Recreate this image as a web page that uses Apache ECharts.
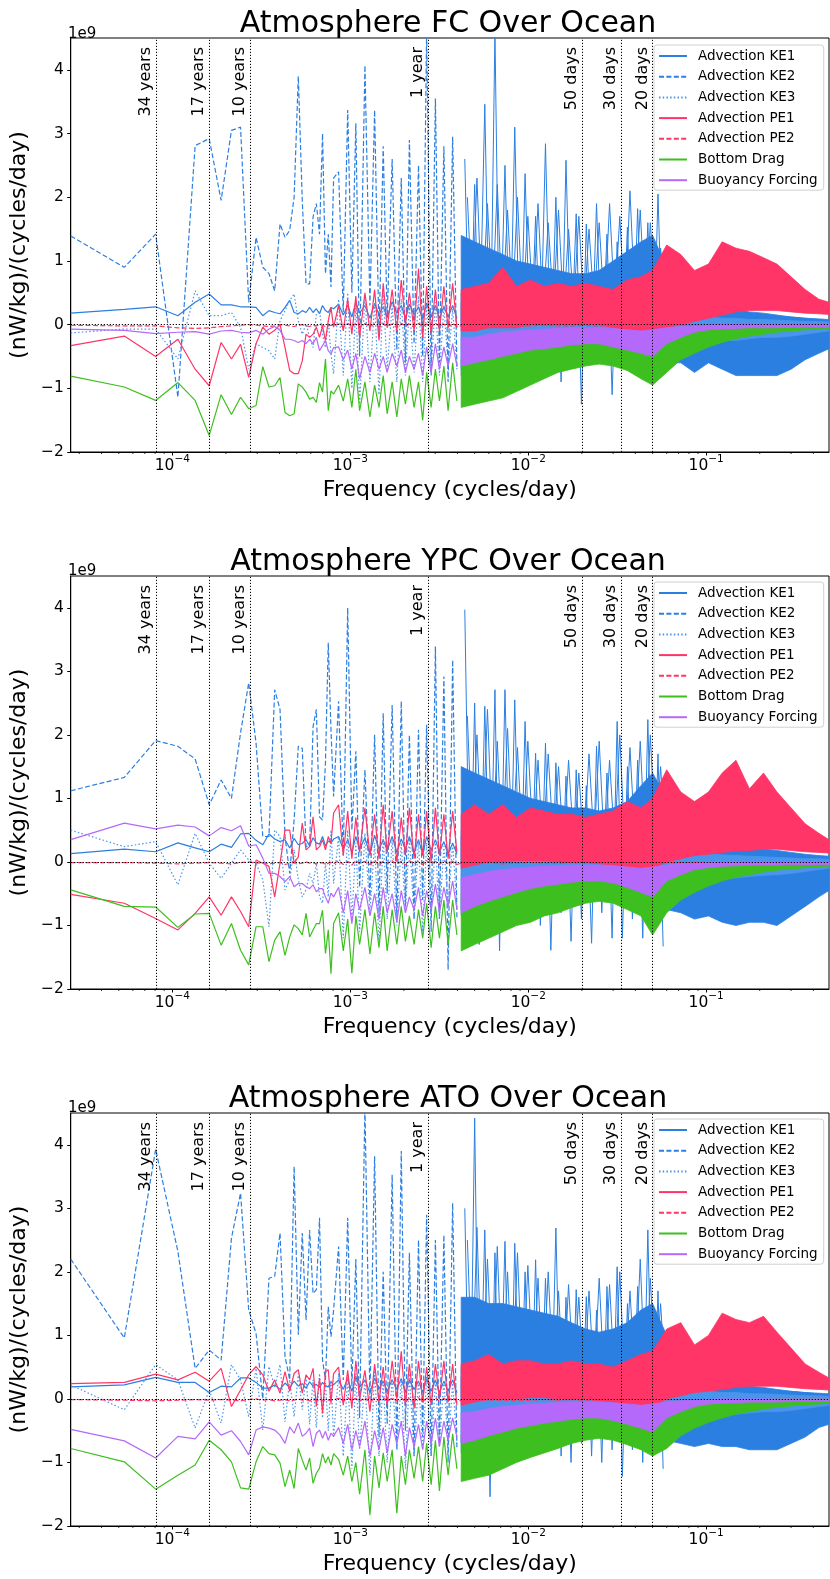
<!DOCTYPE html>
<html><head><meta charset="utf-8">
<script src="https://cdn.jsdelivr.net/npm/echarts@6/dist/echarts.min.js"></script>
<style>html,body{margin:0;padding:0;background:#fff}#chart{width:830px;height:1579px}</style>
</head><body><div id="chart"></div>
<script>
// ---------- shared axes / categories ----------
const RECORD_DAYS = 102 * 365; // record length -> frequency resolution k / RECORD_DAYS (cycles/day)
const kLow = [1,2,3,4,5,6,7,8,9,10,11,12,13,14,15,16,17,18,19,20,21,22,23,24,25,26,27,28,29,30];
const kMid = [32,34,36,38,40,42,45,48,51,54,57,60,64,68,72,76,80,85,90,95,100,106,112,118,125,132,140,148];
const bandFreq = [0.0042,0.005,0.006,0.0072,0.0086,0.0103,0.0123,0.0147,0.0175,0.021,0.025,0.03,0.036,0.043,0.05,0.06,0.072,0.086,0.103,0.123,0.147,0.175,0.21,0.25,0.3,0.36,0.43,0.49];
const tailFreq = [0.0044,0.0047,0.005,0.0053,0.0057,0.0061,0.0065,0.0069,0.0074,0.0079,0.0084,0.009,0.0096,0.0103,0.011,0.0117,0.0125,0.0134,0.0143,0.0153,0.0163,0.0174,0.0186,0.0199,0.0212,0.0227,0.0242,0.0259,0.0277,0.0296,0.0316,0.0338,0.0361,0.0385,0.0412,0.044,0.047,0.0502,0.0536,0.0573];
const tailFreq2 = [0.00455,0.00485,0.00515,0.0055,0.0059,0.0063,0.0067,0.00715,0.00765,0.00815,0.0087,0.0093,0.00995,0.01065,0.01135,0.0121,0.01295,0.01385,0.0148,0.0158,0.01685,0.018,0.01925,0.02055,0.02195,0.02345,0.02505,0.0268,0.02865,0.0306,0.0327,0.03495,0.0373,0.03985,0.0426,0.0455,0.04855,0.0519,0.05545,0.0592];
const periodFreq = [1/(34*365), 1/(17*365), 1/(10*365), 1/365, 1/50, 1/30, 1/20];
const periodLabels = ['34 years','17 years','10 years','1 year','50 days','30 days','20 days'];
const minorTickFreq = [3e-5,4e-5,5e-5,6e-5,7e-5,8e-5,9e-5,2e-4,3e-4,4e-4,5e-4,6e-4,7e-4,8e-4,9e-4,2e-3,3e-3,4e-3,5e-3,6e-3,7e-3,8e-3,9e-3,2e-2,3e-2,4e-2,5e-2,6e-2,7e-2,8e-2,9e-2,0.2,0.3,0.4];
const seriesNames = ['Advection KE1','Advection KE2','Advection KE3','Advection PE1','Advection PE2','Bottom Drag','Buoyancy Forcing'];
const panelTitles = ['Atmosphere FC Over Ocean','Atmosphere YPC Over Ocean','Atmosphere ATO Over Ocean'];

// ---------- Panel 1: FC (values in 1e9 units) ----------
const fcKE1Low = [0.18,0.24,0.28,0.14,0.35,0.48,0.31,0.31,0.28,0.28,0.27,0.14,0.22,0.19,0.17,0.27,0.38,0.19,0.17,0.22,0.19,0.27,0.19,0.25,0.17,0.3,0.22,0.19,0.27,0.25];
const fcKE1Mid = [0.32,0.15,0.3,0.12,0.35,0.18,0.3,0.1,0.33,0.16,0.28,0.12,0.36,0.18,0.3,0.1,0.32,0.15,0.28,0.08,0.34,0.12,0.3,0.1,0.28,0.12,0.3,0.1];
const fcKE1Hi = [0.35,0.33,0.32,0.3,0.3,0.3,0.28,0.28,0.27,0.27,0.26,0.26,0.27,0.28,0.28,0.25,0.22,0.2,0.18,0.17,0.16,0.15,0.14,0.13,0.12,0.1,0.09,0.08];
const fcKE1Lo = [0.02,0.02,0.0,0.0,-0.02,-0.02,-0.03,-0.03,-0.03,-0.04,-0.04,-0.05,-0.05,-0.06,-0.06,-0.06,-0.07,-0.08,-0.08,-0.08,-0.08,-0.08,-0.07,-0.07,-0.06,-0.06,-0.05,-0.05];
const fcKE2Low = [1.39,0.90,1.42,-1.14,2.81,2.92,1.95,3.05,3.10,0.35,1.37,0.9,0.8,0.53,1.58,1.37,1.48,2.0,3.9,1.95,0.64,0.64,1.69,1.9,1.42,3.0,0.8,1.42,0.59,2.3];
const fcKE2Mid = [2.4,0.2,3.37,0.5,3.16,-0.5,4.07,0.3,3.37,-0.2,2.8,0.1,2.6,-0.4,2.3,-0.6,2.9,-0.3,2.5,-0.5,4.6,-0.8,3.55,-0.6,2.8,-0.9,2.95,-0.7];
const fcKE2Tail = [2.6,-0.8,2.2,-0.6,3.46,-0.9,4.6,-0.7,2.5,-0.5,3.1,-0.8,2.37,-0.6,1.7,-0.5,2.84,-0.7,2.0,-0.9,2.58,-0.5,1.74,-1.25,1.58,-0.5,1.9,-0.6,1.42,-1.1,1.3,-0.5,1.53,-0.7,1.82,-0.6,1.6,-0.9,2.05,-0.7];
const fcKE2Tail2 = [2.0,0.3,2.3,0.2,1.9,0.3,2.2,0.2,1.8,0.3,2.0,0.2,1.7,0.3,1.9,0.2,1.6,0.3,1.8,0.2,1.5,0.3,1.7,0.2,1.5,0.3,1.6,0.2,1.9,0.3,1.7,0.2,2.1,0.3,1.8,0.2,1.6,0.3,1.2,0.2];
const fcKE2Hi = [1.4,1.3,1.2,1.1,1.0,0.95,0.9,0.85,0.8,0.8,0.85,1.0,1.15,1.3,1.4,0.9,0.5,0.35,0.3,0.3,0.25,0.2,0.18,0.15,0.12,0.1,0.08,0.06];
const fcKE2Lo = [-0.7,-0.65,-0.6,-0.6,-0.55,-0.5,-0.5,-0.5,-0.45,-0.45,-0.45,-0.45,-0.5,-0.5,-0.6,-0.6,-0.6,-0.75,-0.6,-0.7,-0.8,-0.8,-0.8,-0.8,-0.7,-0.55,-0.45,-0.38];
const fcKE3Low = [-0.13,-0.07,-0.07,-0.54,0.53,0.14,0.14,0.19,-0.04,-0.70,-0.3,-0.36,-0.41,-0.54,0.06,0.22,0.38,0.48,0.06,-0.15,0.01,-0.2,-0.36,0.17,0.22,-0.15,-0.36,0.06,-0.46,-0.77];
const fcKE3Mid = [0.4,-0.8,0.5,-1.0,0.3,-1.25,0.45,-0.9,0.35,-1.1,0.5,-0.7,0.3,-0.9,0.4,-0.8,0.3,-0.75,0.45,-0.9,0.3,-0.7,0.35,-0.8,0.3,-0.65,0.25,-0.7];
const fcKE3Hi = [0.5,0.45,0.45,0.4,0.4,0.35,0.35,0.3,0.3,0.3,0.28,0.25,0.25,0.25,0.25,0.2,0.18,0.15,0.12,0.1,0.1,0.08,0.08,0.07,0.06,0.05,0.05,0.04];
const fcKE3Lo = [-0.8,-0.75,-0.7,-0.65,-0.6,-0.55,-0.5,-0.45,-0.4,-0.4,-0.4,-0.38,-0.4,-0.4,-0.45,-0.35,-0.3,-0.3,-0.25,-0.25,-0.25,-0.22,-0.2,-0.2,-0.18,-0.15,-0.12,-0.1];
const fcPE1Low = [-0.33,-0.18,-0.5,-0.23,-0.70,-0.96,-0.28,-0.54,-0.31,-0.83,-0.30,-0.04,-0.15,-0.09,0.0,-0.36,-0.72,-0.77,-0.77,-0.57,-0.15,-0.2,-0.15,-0.04,-0.2,-0.02,-0.25,0.06,0.27,-0.04];
const fcPE1Mid = [0.3,-0.1,0.4,-0.15,0.45,-0.2,0.5,-0.1,0.55,-0.25,0.65,-0.05,0.55,-0.1,0.7,0.0,0.5,-0.1,0.88,-0.2,0.6,-0.15,0.55,-0.1,0.6,-0.05,0.65,-0.05];
const fcPE1Hi = [0.55,0.6,0.65,0.9,0.6,0.7,0.6,0.65,0.6,0.65,0.6,0.55,0.7,0.75,0.85,1.25,1.1,0.85,0.95,1.3,1.2,1.15,1.05,0.95,0.75,0.55,0.4,0.35];
const fcPE1Lo = [-0.1,-0.1,-0.05,-0.05,-0.05,0.0,0.0,0.0,0.0,0.0,0.0,-0.05,-0.1,-0.15,-0.15,-0.05,0.0,0.05,0.1,0.15,0.2,0.22,0.22,0.22,0.2,0.18,0.17,0.16];
const fcPE2Low = [-0.01,-0.02,-0.02,-0.05,-0.06,-0.05,-0.03,-0.02,-0.01,0.0,-0.01,-0.02,-0.03,-0.02,0.0,-0.01,-0.02,-0.03,-0.01,0.0,-0.02,-0.03,-0.01,-0.02,0.0,-0.01,-0.03,-0.02,-0.01,-0.02];
const fcPE2Mid = [0.01,-0.04,0.02,-0.03,0.01,-0.05,0.02,-0.03,0.01,-0.04,0.02,-0.03,0.01,-0.05,0.02,-0.03,0.01,-0.04,0.02,-0.03,0.01,-0.04,0.02,-0.03,0.01,-0.04,0.02,-0.03];
const fcPE2Band = [-0.02,-0.01,-0.03,-0.01,-0.02,-0.02,-0.01,-0.02,-0.02,-0.01,-0.02,-0.02,-0.01,-0.02,-0.02,-0.01,-0.01,-0.01,-0.01,-0.01,-0.01,-0.01,-0.01,-0.01,-0.01,-0.01,-0.01,-0.01];
const fcBDLow = [-0.81,-0.98,-1.19,-0.91,-1.19,-1.74,-1.10,-1.41,-1.14,-1.32,-1.27,-0.66,-0.98,-0.96,-0.83,-1.38,-1.43,-1.40,-0.93,-0.98,-1.06,-1.17,-1.14,-1.22,-0.91,-1.06,-0.54,-1.35,-1.04,-1.09];
const fcBDMid = [-0.95,-1.2,-0.85,-1.3,-0.7,-1.35,-0.9,-1.45,-0.95,-1.3,-0.8,-1.4,-0.9,-1.45,-0.85,-1.25,-0.8,-1.3,-0.9,-1.5,-0.75,-1.3,-0.7,-1.2,-0.65,-1.35,-0.6,-1.2];
const fcBDHi = [-0.55,-0.5,-0.45,-0.4,-0.35,-0.3,-0.28,-0.25,-0.22,-0.2,-0.2,-0.2,-0.25,-0.3,-0.3,-0.2,-0.15,-0.1,-0.06,-0.04,-0.03,-0.02,-0.01,0.0,0.0,0.0,0.0,0.0];
const fcBDLo = [-1.3,-1.25,-1.2,-1.15,-1.05,-0.95,-0.85,-0.75,-0.7,-0.65,-0.62,-0.65,-0.72,-0.85,-0.95,-0.75,-0.55,-0.45,-0.35,-0.28,-0.22,-0.18,-0.15,-0.12,-0.1,-0.08,-0.07,-0.06];
const fcBFLow = [-0.07,-0.09,-0.14,-0.12,-0.11,-0.15,-0.10,-0.09,-0.12,-0.13,-0.09,-0.15,-0.07,-0.03,-0.09,-0.23,-0.23,-0.25,-0.28,-0.25,-0.30,-0.23,-0.30,-0.2,-0.41,-0.33,-0.25,-0.41,-0.46,-0.36];
const fcBFMid = [-0.35,-0.55,-0.4,-0.7,-0.45,-0.85,-0.5,-0.75,-0.45,-0.7,-0.5,-0.75,-0.45,-0.65,-0.4,-0.75,-0.5,-0.7,-0.45,-0.8,-0.35,-0.75,-0.3,-0.7,-0.35,-0.65,-0.3,-0.65];
const fcBFHi = [-0.2,-0.2,-0.15,-0.12,-0.1,-0.08,-0.07,-0.06,-0.05,-0.05,-0.05,-0.06,-0.08,-0.1,-0.08,-0.05,-0.03,-0.02,-0.01,0,0,0,0,0,0,0,0,0];
const fcBFLo = [-0.65,-0.6,-0.55,-0.5,-0.45,-0.4,-0.38,-0.35,-0.32,-0.3,-0.3,-0.35,-0.4,-0.45,-0.5,-0.3,-0.2,-0.12,-0.08,-0.07,-0.06,-0.05,-0.05,-0.05,-0.04,-0.04,-0.04,-0.04];

// ---------- Panel 2: YPC ----------
const ypKE1Low = [0.13,0.2,0.16,0.3,0.22,0.16,0.28,0.23,0.44,0.45,0.34,0.27,0.44,0.36,0.32,0.35,0.22,0.37,0.27,0.29,0.35,0.25,0.38,0.3,0.28,0.4,0.25,0.33,0.3,0.36];
const ypKE1Mid = [0.4,0.2,0.35,0.15,0.4,0.2,0.38,0.12,0.42,0.2,0.35,0.18,0.4,0.15,0.36,0.2,0.4,0.15,0.35,0.12,0.4,0.18,0.35,0.15,0.32,0.12,0.3,0.12];
const ypKE1Hi = [0.4,0.38,0.36,0.35,0.35,0.33,0.32,0.3,0.3,0.3,0.3,0.3,0.3,0.32,0.32,0.3,0.35,0.32,0.3,0.28,0.26,0.24,0.2,0.18,0.15,0.12,0.1,0.09];
const ypKE1Lo = [0.0,0.0,-0.02,-0.02,-0.03,-0.03,-0.04,-0.04,-0.05,-0.05,-0.05,-0.06,-0.06,-0.07,-0.07,-0.07,-0.08,-0.08,-0.08,-0.08,-0.08,-0.08,-0.08,-0.07,-0.07,-0.06,-0.06,-0.05];
const ypKE2Low = [1.12,1.33,1.91,1.82,1.62,0.90,1.29,1.0,2.03,2.82,1.87,0.4,0.4,2.71,2.4,0.4,-0.18,0.66,1.82,1.79,0.24,0.24,2.13,2.4,0.71,0.66,1.56,3.45,2.08,1.03];
const ypKE2Mid = [2.53,0.1,4.0,0.5,1.74,-0.4,1.45,-0.6,2.0,-0.8,2.34,-0.5,2.47,-0.9,2.53,-0.7,2.0,-0.9,2.08,-0.6,2.16,-1.1,3.39,-0.9,2.92,-1.7,3.18,-0.9];
const ypKE2Tail = [3.97,-0.9,2.5,-1.3,2.45,-0.8,2.71,-1.4,2.71,-0.7,2.55,-0.9,2.21,-0.8,1.71,-1.0,1.87,-1.39,1.56,-0.8,1.35,-1.25,1.45,-0.9,1.2,-1.28,1.82,-0.8,1.4,-1.2,2.21,-1.2,1.5,-0.9,1.6,-1.2,2.24,-1.0,1.7,-1.33];
const ypKE2Tail2 = [2.3,0.3,2.0,0.2,2.4,0.3,1.9,0.2,2.1,0.3,1.8,0.2,1.9,0.3,1.6,0.2,1.7,0.3,1.5,0.2,1.6,0.3,1.4,0.2,1.7,0.3,1.9,0.2,1.6,0.3,2.0,0.2,1.8,0.3,1.9,0.2,2.0,0.3,1.5,0.2];
const ypKE2Hi = [1.5,1.4,1.3,1.2,1.1,1.0,0.95,0.9,0.85,0.85,0.8,0.85,0.95,1.2,1.4,1.0,0.6,0.4,0.35,0.35,0.25,0.2,0.15,0.12,0.1,0.08,0.06,0.05];
const ypKE2Lo = [-0.75,-0.7,-0.7,-0.65,-0.6,-0.6,-0.55,-0.55,-0.55,-0.5,-0.55,-0.55,-0.6,-0.65,-0.7,-0.75,-0.8,-0.9,-0.85,-0.95,-1.0,-0.95,-0.95,-1.0,-0.85,-0.7,-0.55,-0.45];
const ypKE3Low = [0.5,0.24,0.32,-0.36,0.45,-0.02,-0.26,-0.02,0.19,0.03,-0.02,-0.28,-1.02,0.5,0.4,-0.44,-0.28,0.19,-0.28,-0.55,-0.44,-0.18,-0.34,-0.02,-0.55,-0.65,-0.02,-0.55,0.5,-0.34];
const ypKE3Mid = [0.4,-1.2,0.5,-0.9,0.3,-1.1,0.45,-0.8,0.3,-1.3,0.4,-0.9,0.35,-1.0,0.3,-0.8,0.4,-0.9,0.35,-1.1,0.3,-0.8,0.3,-0.9,0.25,-0.7,0.3,-0.75];
const ypKE3Hi = [0.5,0.45,0.45,0.42,0.4,0.38,0.35,0.32,0.3,0.3,0.28,0.28,0.26,0.25,0.25,0.22,0.2,0.16,0.13,0.11,0.1,0.09,0.08,0.07,0.06,0.05,0.05,0.04];
const ypKE3Lo = [-0.85,-0.8,-0.75,-0.7,-0.62,-0.55,-0.5,-0.47,-0.43,-0.42,-0.42,-0.4,-0.42,-0.45,-0.48,-0.38,-0.33,-0.3,-0.27,-0.26,-0.25,-0.23,-0.21,-0.2,-0.18,-0.15,-0.12,-0.1];
const ypPE1Low = [-0.51,-0.65,-0.89,-1.07,-0.81,-0.55,-0.84,-0.55,-0.78,-1.02,0.03,-0.02,-0.07,-0.55,-0.02,0.5,0.5,-0.02,0.08,0.61,0.19,0.24,0.71,0.19,0.24,0.35,0.19,0.4,0.29,0.77];
const ypPE1Mid = [0.9,0.1,0.8,0.05,0.7,0.15,0.85,0.1,0.75,0.05,0.9,0.15,0.8,0.0,0.7,0.1,0.85,0.05,0.75,0.1,0.8,0.0,0.85,0.1,0.75,0.05,0.8,0.15];
const ypPE1Hi = [0.75,0.9,0.75,0.9,0.7,0.85,0.8,0.75,0.75,0.7,0.75,0.8,0.95,0.85,1.0,1.45,1.1,0.95,1.1,1.4,1.6,1.15,1.4,1.1,0.85,0.6,0.45,0.35];
const ypPE1Lo = [-0.1,-0.05,0.0,0.0,0.02,0.02,0.02,0.0,0.0,0.0,-0.03,-0.05,-0.08,-0.1,-0.1,0.0,0.05,0.1,0.12,0.15,0.17,0.18,0.2,0.2,0.18,0.16,0.15,0.14];
const ypPE2Low = [-0.01,-0.01,-0.02,-0.03,-0.02,-0.01,-0.02,-0.03,-0.01,0.0,-0.02,-0.01,-0.03,-0.02,-0.01,-0.04,-0.02,-0.01,-0.03,-0.02,0.0,-0.02,-0.01,-0.03,-0.02,-0.01,-0.04,-0.02,-0.01,-0.03];
const ypPE2Mid = [0.02,-0.04,0.01,-0.05,0.02,-0.03,0.01,-0.04,0.02,-0.05,0.01,-0.03,0.02,-0.04,0.01,-0.05,0.02,-0.03,0.01,-0.04,0.02,-0.03,0.01,-0.04,0.02,-0.03,0.01,-0.04];
const ypPE2Band = [-0.02,-0.02,-0.01,-0.03,-0.02,-0.01,-0.02,-0.02,-0.01,-0.02,-0.02,-0.01,-0.02,-0.02,-0.01,-0.01,-0.01,-0.01,-0.01,-0.01,-0.01,-0.01,-0.01,-0.01,-0.01,-0.01,-0.01,-0.01];
const ypBDLow = [-0.44,-0.70,-0.71,-1.03,-0.82,-0.81,-1.31,-0.97,-1.39,-1.62,-1.02,-1.02,-1.57,-1.23,-1.1,-1.47,-1.18,-0.99,-1.05,-1.15,-0.81,-1.18,-1.07,-0.97,-0.97,-0.76,-1.44,-1.07,-1.76,-0.97];
const ypBDMid = [-0.8,-1.4,-0.9,-1.75,-0.85,-1.3,-0.75,-1.45,-0.8,-1.35,-0.7,-1.4,-0.75,-1.3,-0.7,-1.25,-0.85,-1.3,-0.75,-1.2,-0.65,-1.35,-0.7,-1.2,-0.6,-1.3,-0.6,-1.15];
const ypBDHi = [-0.5,-0.45,-0.42,-0.38,-0.35,-0.3,-0.28,-0.25,-0.22,-0.2,-0.2,-0.22,-0.25,-0.3,-0.3,-0.2,-0.15,-0.1,-0.07,-0.05,-0.03,-0.02,-0.01,0,0,0,0,0];
const ypBDLo = [-1.4,-1.3,-1.2,-1.1,-1.0,-0.95,-0.85,-0.8,-0.72,-0.65,-0.62,-0.65,-0.75,-0.85,-1.15,-0.8,-0.6,-0.48,-0.38,-0.3,-0.24,-0.2,-0.16,-0.13,-0.11,-0.09,-0.08,-0.07];
const ypBFLow = [0.35,0.61,0.52,0.58,0.55,0.41,0.54,0.49,0.57,0.25,0.27,0.06,-0.18,-0.18,-0.23,-0.31,-0.23,-0.39,-0.34,-0.34,-0.39,-0.42,-0.36,-0.47,-0.42,-0.42,-0.55,-0.65,-0.49,-0.55];
const ypBFMid = [-0.4,-0.8,-0.45,-0.97,-0.5,-0.75,-0.4,-0.85,-0.5,-0.9,-0.4,-0.8,-0.5,-0.95,-0.45,-0.8,-0.55,-0.75,-0.4,-0.85,-0.45,-0.75,-0.35,-0.8,-0.4,-0.7,-0.3,-0.75];
const ypBFHi = [-0.25,-0.2,-0.15,-0.12,-0.1,-0.08,-0.07,-0.06,-0.05,-0.05,-0.05,-0.06,-0.08,-0.1,-0.08,-0.05,-0.03,-0.02,-0.01,0,0,0,0,0,0,0,0,0];
const ypBFLo = [-0.8,-0.7,-0.62,-0.55,-0.48,-0.42,-0.38,-0.35,-0.32,-0.3,-0.3,-0.33,-0.4,-0.48,-0.55,-0.3,-0.2,-0.12,-0.09,-0.07,-0.06,-0.05,-0.05,-0.05,-0.04,-0.04,-0.04,-0.04];

// ---------- Panel 3: ATO ----------
const atKE1Low = [0.19,0.22,0.34,0.26,0.26,0.1,0.2,0.19,0.33,0.33,0.26,0.17,0.17,0.22,0.15,0.25,0.18,0.28,0.2,0.24,0.17,0.27,0.2,0.23,0.18,0.26,0.21,0.19,0.27,0.22];
const atKE1Mid = [0.3,0.15,0.32,0.12,0.35,0.18,0.3,0.1,0.33,0.16,0.28,0.12,0.3,0.15,0.32,0.1,0.3,0.15,0.28,0.1,0.32,0.12,0.3,0.1,0.28,0.12,0.3,0.1];
const atKE1Hi = [0.35,0.33,0.32,0.3,0.3,0.3,0.28,0.28,0.27,0.27,0.26,0.26,0.27,0.28,0.3,0.28,0.26,0.24,0.22,0.2,0.18,0.16,0.15,0.13,0.12,0.1,0.09,0.08];
const atKE1Lo = [0.02,0.02,0.0,0.0,-0.02,-0.02,-0.03,-0.03,-0.03,-0.04,-0.04,-0.05,-0.05,-0.06,-0.06,-0.06,-0.07,-0.08,-0.08,-0.08,-0.08,-0.08,-0.07,-0.07,-0.06,-0.06,-0.05,-0.05];
const atKE2Low = [2.2,0.96,3.93,2.32,0.48,0.77,0.61,2.53,3.24,1.40,1.03,0.0,1.9,1.93,2.61,0.67,0.3,3.66,1.01,2.61,1.24,2.66,1.66,1.72,2.85,0.61,0.3,1.45,0.98,1.4];
const atKE2Mid = [2.4,0.3,2.85,0.2,2.2,-0.3,4.6,0.0,3.82,-0.6,2.0,-0.4,3.53,-0.8,3.9,-0.5,2.3,-0.9,2.5,-0.6,2.9,-0.9,2.5,-0.7,2.58,-1.0,3.08,-0.8];
const atKE2Tail = [3.0,-1.0,4.42,-0.9,2.66,-1.54,2.3,-0.8,2.48,-1.0,2.45,-0.7,2.0,-0.9,2.19,-0.8,1.9,-0.7,2.69,-0.9,1.6,-1.0,1.72,-0.7,1.61,-0.9,1.4,-1.0,1.77,-0.8,2.08,-1.22,1.5,-0.8,1.77,-1.0,2.66,-0.9,1.7,-1.1];
const atKE2Tail2 = [2.5,0.3,2.7,0.2,2.2,0.3,2.4,0.2,2.0,0.3,2.3,0.2,2.1,0.3,1.9,0.2,2.0,0.3,1.7,0.2,1.8,0.3,1.6,0.2,1.7,0.3,1.9,0.2,1.8,0.3,2.0,0.2,1.7,0.3,2.2,0.2,1.9,0.3,1.5,0.2];
const atKE2Hi = [1.6,1.6,1.5,1.5,1.45,1.4,1.35,1.3,1.2,1.1,1.05,1.1,1.2,1.4,1.5,1.0,0.6,0.4,0.35,0.3,0.25,0.2,0.18,0.15,0.12,0.1,0.08,0.06];
const atKE2Lo = [-0.7,-0.7,-0.65,-0.6,-0.6,-0.55,-0.55,-0.5,-0.5,-0.5,-0.5,-0.5,-0.55,-0.6,-0.65,-0.65,-0.7,-0.75,-0.7,-0.75,-0.75,-0.8,-0.8,-0.8,-0.7,-0.6,-0.45,-0.4];
const atKE3Low = [0.22,-0.17,0.54,0.3,-0.46,0.14,-0.38,0.54,0.3,-0.28,0.48,-0.49,0.51,0.19,0.54,-0.36,0.3,-0.28,0.4,-0.17,0.35,-0.4,0.3,-0.45,0.4,-0.3,0.25,-0.5,0.3,-0.6];
const atKE3Mid = [0.4,-0.9,0.35,-1.1,0.4,-0.8,0.3,-1.2,0.45,-0.9,0.3,-1.0,0.35,-0.8,0.3,-1.1,0.4,-0.9,0.3,-0.8,0.35,-0.9,0.3,-0.75,0.3,-0.8,0.25,-0.7];
const atKE3Hi = [0.5,0.45,0.45,0.4,0.4,0.35,0.35,0.3,0.3,0.3,0.28,0.25,0.25,0.25,0.25,0.2,0.18,0.15,0.12,0.1,0.1,0.08,0.08,0.07,0.06,0.05,0.05,0.04];
const atKE3Lo = [-0.85,-0.8,-0.72,-0.66,-0.6,-0.55,-0.5,-0.45,-0.42,-0.4,-0.4,-0.4,-0.42,-0.42,-0.45,-0.35,-0.3,-0.28,-0.25,-0.25,-0.24,-0.22,-0.2,-0.2,-0.18,-0.15,-0.12,-0.1];
const atPE1Low = [0.24,0.26,0.39,0.3,0.42,0.28,0.48,-0.12,0.14,0.38,0.51,0.38,0.12,0.3,0.09,0.43,0.12,0.4,0.46,0.09,0.38,0.3,0.48,-0.12,0.33,-0.23,0.43,0.46,-0.07,0.4];
const atPE1Mid = [0.5,-0.1,0.45,-0.15,0.6,0.0,0.45,-0.2,0.55,-0.05,0.5,-0.1,0.6,0.0,0.75,-0.1,0.55,-0.15,0.6,-0.05,0.5,-0.1,0.55,0.0,0.6,-0.05,0.55,-0.1];
const atPE1Hi = [0.55,0.6,0.7,0.55,0.6,0.6,0.55,0.55,0.6,0.55,0.55,0.5,0.6,0.7,0.75,1.1,1.2,0.85,1.0,1.35,1.25,1.2,1.3,1.05,0.8,0.55,0.42,0.33];
const atPE1Lo = [-0.1,-0.05,0.0,0.0,0.0,0.02,0.02,0.0,0.0,0.0,-0.03,-0.05,-0.08,-0.1,-0.12,0.0,0.05,0.1,0.12,0.15,0.18,0.2,0.2,0.2,0.18,0.16,0.15,0.14];
const atPE2Low = [-0.01,-0.02,-0.03,-0.02,-0.01,-0.02,-0.01,-0.02,-0.03,-0.01,0.0,-0.02,-0.01,-0.03,-0.02,-0.01,-0.03,-0.02,0.0,-0.02,-0.01,-0.03,-0.02,-0.01,-0.02,-0.03,-0.01,-0.02,-0.02,-0.01];
const atPE2Mid = [0.01,-0.04,0.02,-0.03,0.01,-0.04,0.02,-0.05,0.01,-0.03,0.02,-0.04,0.01,-0.03,0.02,-0.05,0.01,-0.03,0.02,-0.04,0.01,-0.03,0.02,-0.04,0.01,-0.03,0.02,-0.04];
const atPE2Band = [-0.02,-0.01,-0.02,-0.02,-0.03,-0.02,-0.01,-0.02,-0.01,-0.02,-0.02,-0.01,-0.02,-0.01,-0.02,-0.01,-0.01,-0.01,-0.01,-0.01,-0.01,-0.01,-0.01,-0.01,-0.01,-0.01,-0.01,-0.01];
const atBDLow = [-0.78,-0.99,-1.42,-1.2,-1.04,-0.65,-0.8,-0.99,-1.4,-1.42,-0.99,-0.75,-0.86,-0.88,-1.01,-1.38,-1.12,-1.41,-0.78,-0.96,-1.12,-0.93,-1.33,-1.17,-1.09,-0.86,-1.01,-0.91,-1.04,-0.86];
const atBDMid = [-0.95,-1.2,-0.9,-1.3,-1.0,-1.5,-0.8,-1.83,-0.9,-1.4,-0.85,-1.3,-0.8,-1.8,-0.9,-1.35,-0.8,-1.25,-0.75,-1.3,-0.7,-1.35,-0.65,-1.45,-0.6,-1.2,-0.55,-1.1];
const atBDHi = [-0.55,-0.5,-0.45,-0.4,-0.35,-0.3,-0.28,-0.25,-0.22,-0.2,-0.2,-0.22,-0.25,-0.3,-0.3,-0.2,-0.15,-0.1,-0.07,-0.05,-0.03,-0.02,-0.01,0,0,0,0,0];
const atBDLo = [-1.3,-1.25,-1.2,-1.1,-1.0,-0.92,-0.85,-0.78,-0.7,-0.65,-0.62,-0.65,-0.72,-0.8,-0.9,-0.78,-0.58,-0.46,-0.37,-0.3,-0.24,-0.2,-0.16,-0.13,-0.11,-0.09,-0.08,-0.07];
const atBFLow = [-0.48,-0.66,-0.93,-0.59,-0.63,-0.36,-0.57,-0.5,-0.67,-0.88,-0.49,-0.44,-0.46,-0.49,-0.57,-0.7,-0.44,-0.54,-0.38,-0.59,-0.54,-0.46,-0.75,-0.54,-0.49,-0.62,-0.51,-0.65,-0.54,-0.59];
const atBFMid = [-0.45,-0.7,-0.4,-0.8,-0.5,-0.75,-0.35,-0.9,-0.5,-0.8,-0.45,-0.85,-0.4,-0.7,-0.35,-0.9,-0.45,-0.75,-0.4,-0.8,-0.35,-0.7,-0.3,-0.75,-0.35,-0.65,-0.3,-0.6];
const atBFHi = [-0.22,-0.2,-0.15,-0.12,-0.1,-0.08,-0.07,-0.06,-0.05,-0.05,-0.05,-0.06,-0.08,-0.1,-0.08,-0.05,-0.03,-0.02,-0.01,0,0,0,0,0,0,0,0,0];
const atBFLo = [-0.7,-0.65,-0.58,-0.52,-0.46,-0.42,-0.38,-0.35,-0.32,-0.3,-0.3,-0.34,-0.4,-0.46,-0.52,-0.3,-0.2,-0.12,-0.08,-0.07,-0.06,-0.05,-0.05,-0.05,-0.04,-0.04,-0.04,-0.04];

// ---------- styling ----------
const FONT = "'DejaVu Sans', sans-serif";
const seriesColors = ['#2b7fe1','#2b7fe1','#4b94ec','#ff3467','#ff3467','#3dbf1f','#b469fa'];
const seriesDash = ['solid',[5,2.4],[1.5,2.2],'solid',[5,2.4],'solid','solid'];
const gridTops = [38, 576, 1113];
const gridHeights = [414, 413, 413];
const titleTops = [9, 547, 1084];
const legendTops = [45, 582, 1119];
const expTops = [27, 564, 1101];

const panelSets = [
  [{low:fcKE1Low,mid:fcKE1Mid,hi:fcKE1Hi,lo:fcKE1Lo},{low:fcKE2Low,mid:fcKE2Mid,tail:fcKE2Tail,tail2:fcKE2Tail2,hi:fcKE2Hi,lo:fcKE2Lo},{low:fcKE3Low,mid:fcKE3Mid,hi:fcKE3Hi,lo:fcKE3Lo},{low:fcPE1Low,mid:fcPE1Mid,hi:fcPE1Hi,lo:fcPE1Lo},{low:fcPE2Low,mid:fcPE2Mid,hi:fcPE2Band},{low:fcBDLow,mid:fcBDMid,hi:fcBDHi,lo:fcBDLo},{low:fcBFLow,mid:fcBFMid,hi:fcBFHi,lo:fcBFLo}],
  [{low:ypKE1Low,mid:ypKE1Mid,hi:ypKE1Hi,lo:ypKE1Lo},{low:ypKE2Low,mid:ypKE2Mid,tail:ypKE2Tail,tail2:ypKE2Tail2,hi:ypKE2Hi,lo:ypKE2Lo},{low:ypKE3Low,mid:ypKE3Mid,hi:ypKE3Hi,lo:ypKE3Lo},{low:ypPE1Low,mid:ypPE1Mid,hi:ypPE1Hi,lo:ypPE1Lo},{low:ypPE2Low,mid:ypPE2Mid,hi:ypPE2Band},{low:ypBDLow,mid:ypBDMid,hi:ypBDHi,lo:ypBDLo},{low:ypBFLow,mid:ypBFMid,hi:ypBFHi,lo:ypBFLo}],
  [{low:atKE1Low,mid:atKE1Mid,hi:atKE1Hi,lo:atKE1Lo},{low:atKE2Low,mid:atKE2Mid,tail:atKE2Tail,tail2:atKE2Tail2,hi:atKE2Hi,lo:atKE2Lo},{low:atKE3Low,mid:atKE3Mid,hi:atKE3Hi,lo:atKE3Lo},{low:atPE1Low,mid:atPE1Mid,hi:atPE1Hi,lo:atPE1Lo},{low:atPE2Low,mid:atPE2Mid,hi:atPE2Band},{low:atBDLow,mid:atBDMid,hi:atBDHi,lo:atBDLo},{low:atBFLow,mid:atBFMid,hi:atBFHi,lo:atBFLo}]
];

function xLabel(v) {
  const e = Math.log10(v), r = Math.round(e);
  if (Math.abs(e - r) > 1e-6) return '';
  return '{b|10}{s|' + (r < 0 ? '\u2212' : '') + Math.abs(r) + '}';
}
function yLabel(v) {
  if (Math.abs(v - Math.round(v)) > 1e-9) return '';
  return v < 0 ? '\u2212' + Math.abs(v) : String(v);
}
// filled envelope polygon drawn through the axes' own scales
function bandRenderer(hi, lo, color) {
  return function (params, api) {
    if (params.dataIndex !== 0) return null;
    const top = bandFreq.map((f, i) => api.coord([f, hi[i]]));
    const bot = bandFreq.map((f, i) => api.coord([f, lo[i]])).reverse();
    return {type: 'polygon', shape: {points: top.concat(bot)},
      style: {fill: color, stroke: color, lineWidth: 0.8}};
  };
}

const grids = [], xAxes = [], yAxes = [], titles = [], legends = [], graphics = [], series = [];
panelSets.forEach((sets, pi) => {
  grids.push({left: 68, width: 761, top: gridTops[pi], height: gridHeights[pi], show: true, borderColor: '#000', borderWidth: 1, backgroundColor: 'transparent'});
  xAxes.push({
    type: 'log', logBase: 10, gridIndex: pi, min: 1 / RECORD_DAYS, max: 0.49,
    axisLine: {show: true, onZero: false, lineStyle: {color: '#000', width: 1}},
    axisTick: {show: true, length: 3.5, lineStyle: {color: '#000', width: 1}},
    splitLine: {show: false},
    axisLabel: {formatter: xLabel, margin: 2, showMinLabel: false, showMaxLabel: false,
      rich: {b: {fontSize: 15.5, fontFamily: FONT, color: '#000', lineHeight: 16, padding: [7, 0, 0, 0]},
             s: {fontSize: 10.5, fontFamily: FONT, color: '#000', lineHeight: 11, verticalAlign: 'top'}}},
    name: 'Frequency (cycles/day)', nameLocation: 'middle', nameGap: 27,
    nameTextStyle: {fontSize: 22, fontFamily: FONT, color: '#000', verticalAlign: 'top'}
  });
  yAxes.push({
    type: 'value', gridIndex: pi, min: -2, max: 4.5, interval: 1,
    axisLine: {show: true, onZero: false, lineStyle: {color: '#000', width: 1}},
    axisTick: {show: true, length: 3.5, lineStyle: {color: '#000', width: 1}},
    splitLine: {show: false},
    axisLabel: {formatter: yLabel, margin: 7, fontSize: 15.5, fontFamily: FONT, color: '#000', showMaxLabel: false},
    name: '(nW/kg)/(cycles/day)', nameLocation: 'middle', nameGap: 28,
    nameTextStyle: {fontSize: 22, fontFamily: FONT, color: '#000'}
  });
  titles.push({text: panelTitles[pi], left: 448, top: titleTops[pi], textAlign: 'center', padding: 0,
    textStyle: {fontSize: 30, fontWeight: 'normal', fontFamily: FONT, color: '#000'}});
  legends.push({
    data: seriesNames.slice(), orient: 'vertical', left: 654, top: legendTops[pi],
    itemWidth: 28, itemHeight: 14, itemGap: 6.7, selectedMode: false,
    itemStyle: {opacity: 0}, z: 200,
    backgroundColor: 'rgba(255,255,255,0.85)', borderColor: '#d0d0d0', borderWidth: 1, borderRadius: 3,
    padding: [4, 6, 3, 4],
    textStyle: {fontSize: 13.5, fontFamily: FONT, color: '#000', padding: [0, 0, 0, 6]}
  });
  graphics.push({type: 'text', left: 68, top: expTops[pi], style: {text: '1e9', font: '15px ' + FONT, fill: '#000'}});

  let order = 0;
  sets.forEach((s, si) => {
    const color = seriesColors[si];
    const pts = kLow.map((k, i) => [k / RECORD_DAYS, s.low[i]]).concat(kMid.map((k, i) => [k / RECORD_DAYS, s.mid[i]]));
    if (!s.lo) bandFreq.forEach((f, i) => pts.push([f, s.hi[i]]));
    const main = {
      name: seriesNames[si], type: 'line', xAxisIndex: pi, yAxisIndex: pi, data: pts, z: 10 + order++,
      symbol: 'none', showSymbol: false, silent: true, animation: false, clip: true,
      lineStyle: {color: color, width: 1.2, type: seriesDash[si]}, itemStyle: {color: color}
    };
    if (si === 6) {
      main.markLine = {
        silent: true, symbol: ['none', 'none'], animation: false, precision: 6, z: 100,
        lineStyle: {color: '#000', type: [1.2, 1.8], width: 1},
        label: {show: true, position: 'insideEndTop', formatter: '{b}', color: '#000', fontSize: 16, fontFamily: FONT, distance: 2, padding: [0, 7, 0, 0]},
        data: periodFreq.map((f, i) => ({xAxis: f, name: periodLabels[i]})).concat([{yAxis: 0, name: '', label: {show: false}}])
      };
    }
    series.push(main);
    [[s.tail2, tailFreq2], [s.tail, tailFreq]].forEach(([vals, freqs]) => {
      if (!vals) return;
      series.push({
        name: seriesNames[si] + ' dense', type: 'line', xAxisIndex: pi, yAxisIndex: pi, z: 10 + order++,
        data: freqs.map((f, i) => [f, vals[i]]), symbol: 'none', showSymbol: false, silent: true, animation: false, clip: true,
        lineStyle: {color: color, width: 1, type: 'solid'}
      });
    });
    if (s.lo) {
      series.push({
        name: seriesNames[si] + ' envelope', type: 'custom', xAxisIndex: pi, yAxisIndex: pi, z: 10 + order++,
        silent: true, animation: false,
        data: [[bandFreq[0], s.lo[0]]],
        renderItem: bandRenderer(s.hi, s.lo, color)
      });
    }
  });
  // minor log ticks
  series.push({
    type: 'custom', name: 'minor ticks', xAxisIndex: pi, yAxisIndex: pi, silent: true, animation: false, z: 50,
    data: minorTickFreq.map(f => [f, -2]),
    renderItem: (params, api) => {
      const p = api.coord([api.value(0), -2]);
      return {type: 'line', shape: {x1: p[0], y1: p[1], x2: p[0], y2: p[1] + 2}, style: {stroke: '#000', lineWidth: 0.8}};
    }
  });
});

const chart = echarts.init(document.getElementById('chart'), null, {renderer: 'canvas'});
chart.setOption({
  animation: false, backgroundColor: '#fff',
  title: titles, grid: grids, xAxis: xAxes, yAxis: yAxes, legend: legends, graphic: graphics, series: series
});
</script></body></html>
